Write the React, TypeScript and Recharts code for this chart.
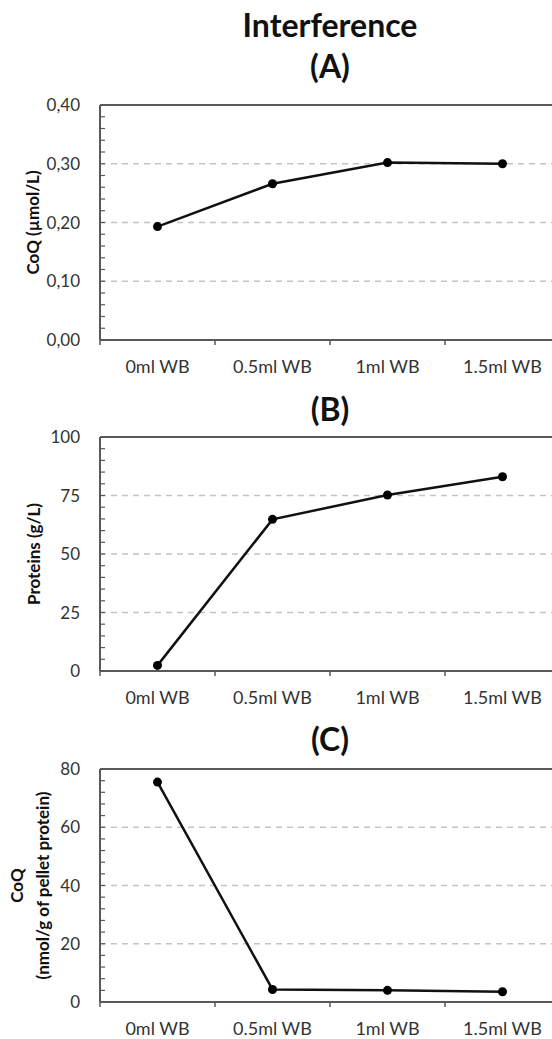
import React from 'react';
import { LineChart, Line, XAxis, YAxis, ReferenceLine } from 'recharts';

const categories = ['0ml WB', '0.5ml WB', '1ml WB', '1.5ml WB'];
const coqValues = [0.193, 0.266, 0.302, 0.3];
const proteinValues = [2.4, 64.8, 75.2, 83.0];
const pelletCoqValues = [75.5, 4.3, 4.0, 3.5];

const coqTicks = [0, 0.1, 0.2, 0.3, 0.4];
const proteinTicks = [0, 25, 50, 75, 100];
const pelletTicks = [0, 20, 40, 60, 80];
const xTicks = [0, 0.5, 1, 1.5, 2, 2.5, 3, 3.5, 4];

const AXIS = '#595959';
const FONT = 'Lato, "Open Sans", sans-serif';
const LABEL_GAP = 20;

// 5 minor steps between each pair of labelled ticks
const minorTicks = (major: number[]) => {
  const out: number[] = [];
  for (let i = 0; i < major.length - 1; i++) {
    const step = (major[i + 1] - major[i]) / 5;
    for (let k = 0; k < 5; k++) out.push(+(major[i] + k * step).toFixed(4));
  }
  out.push(major[major.length - 1]);
  return out;
};

const XTick = (props: any) => {
  const { x, y, payload } = props;
  const v = payload.value as number;
  if (Number.isInteger(v)) {
    return <line x1={x} x2={x} y1={y} y2={y + 5} stroke={AXIS} strokeWidth={1.5} />;
  }
  return (
    <text x={x} y={y + 33} textAnchor="middle" fill="#333" fontSize={18} fontFamily={FONT}>
      {categories[Math.floor(v)]}
    </text>
  );
};

const makeYTick = (major: number[], format: (v: number) => string) => (props: any) => {
  const { x, y, payload } = props;
  const v = payload.value as number;
  const axisX = x + LABEL_GAP;
  const isMajor = major.some((m) => Math.abs(m - v) < 1e-6);
  return (
    <g>
      <line x1={axisX} x2={axisX + 5} y1={y} y2={y} stroke={AXIS} strokeWidth={1.2} />
      {isMajor && (
        <text x={x} y={y} dy="0.36em" textAnchor="end" fill="#333" fontSize={17} fontFamily={FONT}>
          {format(v)}
        </text>
      )}
    </g>
  );
};

interface PanelProps {
  top: number;
  plotHeight: number;
  values: number[];
  ticks: number[];
  format: (v: number) => string;
  labelLines: { text: string; x: number }[];
}

const Panel: React.FC<PanelProps> = ({ top, plotHeight, values, ticks, format, labelLines }) => {
  const data = categories.map((c, i) => ({ pos: i + 0.5, value: values[i] }));
  const lo = ticks[0];
  const hi = ticks[ticks.length - 1];
  const YTick = makeYTick(ticks, format);
  return (
    <div style={{ position: 'absolute', left: 0, top }}>
      <LineChart
        width={600}
        height={10 + plotHeight + 45}
        data={data}
        margin={{ top: 10, right: 40, bottom: 0, left: 40 }}
      >
        {ticks.slice(1, -1).map((t) => (
          <ReferenceLine
            key={t}
            y={t}
            stroke="#c4c4c4"
            strokeWidth={1.5}
            strokeDasharray="6 5"
          />
        ))}
        <XAxis
          dataKey="pos"
          type="number"
          domain={[0, 4]}
          ticks={xTicks}
          interval={0}
          tick={<XTick />}
          tickLine={false}
          tickSize={0}
          tickMargin={0}
          height={45}
          axisLine={{ stroke: AXIS, strokeWidth: 2 }}
        />
        <YAxis
          width={60}
          domain={[lo, hi]}
          ticks={minorTicks(ticks)}
          interval={0}
          tick={<YTick />}
          tickLine={false}
          tickSize={0}
          tickMargin={LABEL_GAP}
          axisLine={{ stroke: AXIS, strokeWidth: 2 }}
          label={{
            content: (p: any) => {
              const vb = p.viewBox;
              const cy = vb.y + vb.height / 2;
              return (
                <g>
                  {labelLines.map((l) => (
                    <text
                      key={l.text}
                      x={l.x}
                      y={cy}
                      transform={`rotate(-90, ${l.x}, ${cy})`}
                      textAnchor="middle"
                      dominantBaseline="central"
                      fontSize={17}
                      fontWeight="bold"
                      fontFamily={FONT}
                      fill="#111"
                    >
                      {l.text}
                    </text>
                  ))}
                </g>
              );
            },
          }}
        />
        <ReferenceLine y={hi} stroke={AXIS} strokeWidth={2} />
        <Line
          dataKey="value"
          type="linear"
          stroke="#111"
          strokeWidth={2.5}
          dot={{ r: 4.5, fill: '#000', stroke: '#000', strokeWidth: 0 }}
          isAnimationActive={false}
        />
      </LineChart>
    </div>
  );
};

const comma = (d: number) => (v: number) => v.toFixed(d).replace('.', ',');

const App: React.FC = () => (
  <div
    style={{
      position: 'fixed',
      left: 0,
      top: 0,
      width: 552,
      height: 1039,
      overflow: 'hidden',
      background: '#fff',
    }}
  >
    <svg width={552} height={1039} style={{ position: 'absolute', left: 0, top: 0 }}>
      <g fontFamily={FONT} fontWeight="bold" fontSize={32} textAnchor="middle" fill="#111">
        <text x={330} y={37}>Interference</text>
        <text x={330} y={78}>(A)</text>
        <text x={330} y={421}>(B)</text>
        <text x={330} y={751}>(C)</text>
      </g>
    </svg>
    <Panel
      top={95}
      plotHeight={235}
      values={coqValues}
      ticks={coqTicks}
      format={comma(2)}
      labelLines={[{ text: 'CoQ (µmol/L)', x: 32 }]}
    />
    <Panel
      top={427}
      plotHeight={234}
      values={proteinValues}
      ticks={proteinTicks}
      format={comma(0)}
      labelLines={[{ text: 'Proteins (g/L)', x: 33 }]}
    />
    <Panel
      top={759}
      plotHeight={233}
      values={pelletCoqValues}
      ticks={pelletTicks}
      format={comma(0)}
      labelLines={[
        { text: 'CoQ', x: 16 },
        { text: '(nmol/g of pellet protein)', x: 42 },
      ]}
    />
  </div>
);

export default App;
